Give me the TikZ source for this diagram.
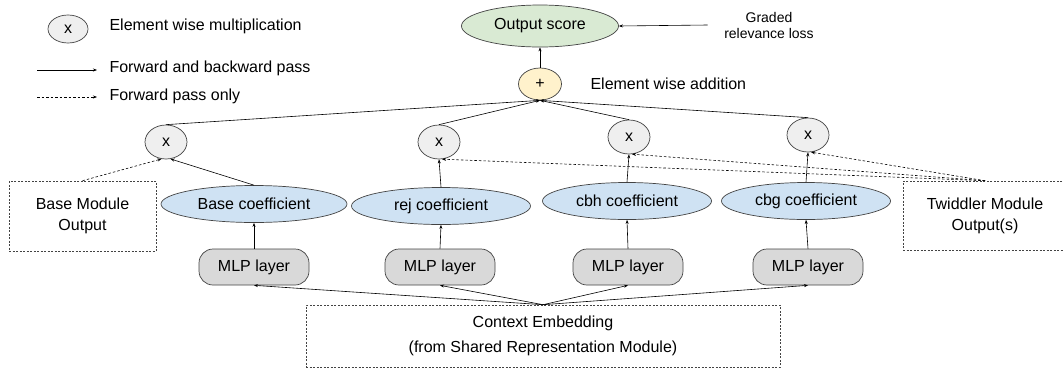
\documentclass[tikz,border=0pt]{standalone}
\usepackage{fontspec}
\setmainfont{Liberation Sans}
\usetikzlibrary{shapes.geometric,arrows.meta}
\definecolor{linegray}{HTML}{434343}
\definecolor{multfill}{HTML}{EFEFEF}
\definecolor{outfill}{HTML}{D9EAD3}
\definecolor{plusfill}{HTML}{FFF2CC}
\definecolor{coeffill}{HTML}{CFE2F3}
\definecolor{mlpfill}{HTML}{D9D9D9}
\begin{document}
\begin{tikzpicture}[x=1pt,y=-1pt,font=\fontsize{16}{21}\selectfont,line join=round,>={Stealth[length=4pt,width=3pt]},
	edge/.style={->,line width=0.6pt},
	fwd/.style={->,line width=0.6pt,dash pattern=on 2.5pt off 2pt},
	oval/.style={ellipse,draw=linegray,line width=0.7pt,inner sep=0pt},
	mult/.style={oval,fill=multfill,minimum width=42pt,minimum height=34pt},
	coef/.style={oval,fill=coeffill,minimum height=37pt},
	mlp/.style={rectangle,rounded corners=14pt,draw=linegray,line width=0.7pt,fill=mlpfill,minimum width=110pt,minimum height=36pt,inner sep=0pt},
	dbox/.style={rectangle,draw=linegray,line width=0.6pt,dash pattern=on 2pt off 1.5pt,align=center,inner sep=0pt}]
\useasboundingbox (0,0) rectangle (1063,373);
% legend
\node[mult,minimum width=40pt,minimum height=28pt] (lmult) at (68,29) {x};
\node[anchor=base west] (lmulttxt) at (106,30) {Element wise multiplication};
\coordinate (lsa) at (37,70); \coordinate (lsb) at (97,70);
\coordinate (lda) at (37,97); \coordinate (ldb) at (97,97);
\draw[edge] (lsa) -- (lsb);
\draw[fwd] (lda) -- (ldb);
\node[anchor=base west] (lsolid) at (106,72) {Forward and backward pass};
\node[anchor=base west] (ldash) at (106,100) {Forward pass only};
% top
\node[oval,fill=outfill,minimum width=157pt,minimum height=42pt] (out) at (540,26) {Output score};
\node[oval,fill=plusfill,minimum width=43pt,minimum height=32pt] (plus) at (540,84) {+};
\node[anchor=west] (addtxt) at (587,84) {Element wise addition};
\node[align=center,font=\fontsize{14}{16}\selectfont] (loss) at (769,25) {Graded\\relevance loss};
% multiplications and coefficients
\node[mult] (m1) at (166,142) {x};
\node[mult] (m2) at (439,142) {x};
\node[mult] (m3) at (629,137) {x};
\node[mult] (m4) at (808,135) {x};
\node[coef,minimum width=186pt] (c1) at (254,204) {Base coefficient};
\node[coef,minimum width=179pt] (c2) at (441,206) {rej coefficient};
\node[coef,minimum width=169pt] (c3) at (627,201) {cbh coefficient};
\node[coef,minimum width=169pt] (c4) at (806,201) {cbg coefficient};
\foreach \x [count=\i] in {254,440,628,808}
	\node[mlp] (mlp\i) at (\x,267) {MLP layer};
\node[dbox,minimum width=147pt,minimum height=70pt] (base) at (82.5,216) {Base Module\\Output};
\node[dbox,minimum width=164pt,minimum height=69pt] (twid) at (985,215.5) {Twiddler Module\\Output(s)};
\node[dbox,minimum width=474pt,minimum height=62pt,font=\fontsize{16}{25}\selectfont] (ctx) at (543,336) {Context Embedding\\(from Shared Representation Module)};
% connectors
\foreach \i in {1,...,4}{
	\draw[edge] (ctx.north) -- (mlp\i.south);
	\draw[edge] (mlp\i.north) -- (c\i.south);
	\draw[edge] (m\i.north) -- (plus.south);
}
\draw[edge] (c1.north) -- (m1.-75);
\foreach \i in {2,3,4}
	\draw[edge] (c\i.north) -- (m\i.south);
\draw[fwd] (base.north) -- (m1.-105);
\foreach \i in {2,3,4}
	\draw[fwd] (twid.north) -- (m\i.-80);
\draw[edge] (plus.north) -- (out.south);
\draw[edge] ([xshift=-13pt]loss.west) -- (out.east);
\end{tikzpicture}
\end{document}
